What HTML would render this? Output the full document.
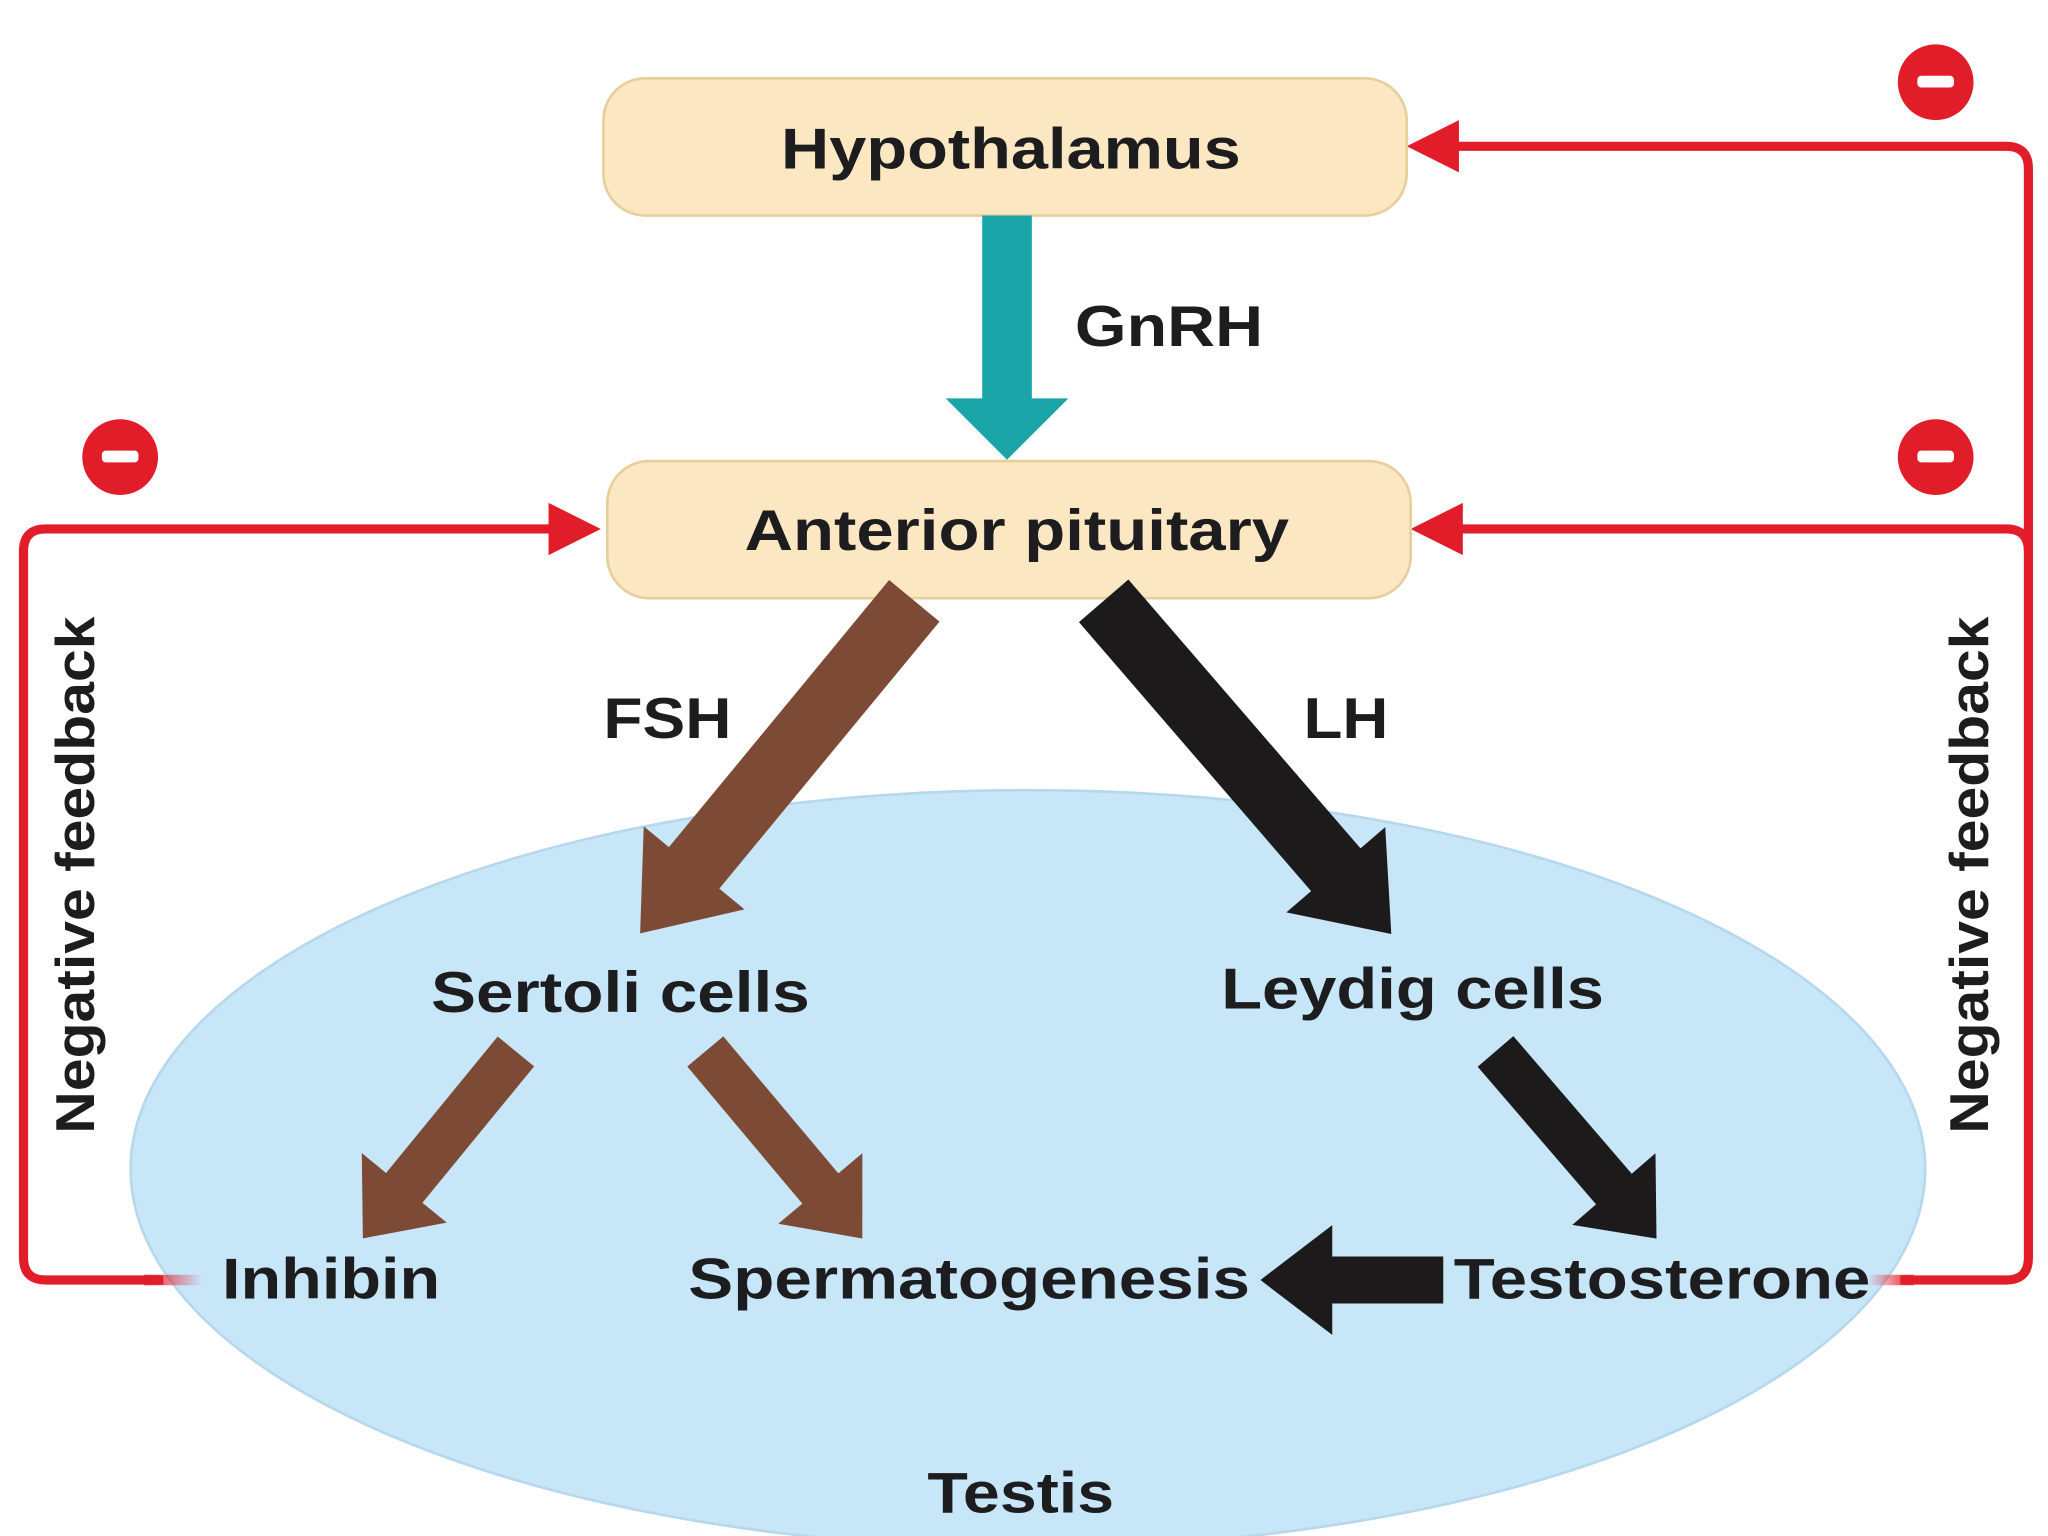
<!DOCTYPE html>
<html><head><meta charset="utf-8"><style>
html,body{margin:0;padding:0;background:#fff;}
svg{display:block}
text{font-family:"Liberation Sans",Arial,sans-serif;font-weight:bold;fill:#1d1d1f;}
</style></head><body>
<svg width="2048" height="1536" viewBox="0 0 1568 1176" preserveAspectRatio="none" xmlns="http://www.w3.org/2000/svg">
<defs>
<linearGradient id="fl" x1="0" x2="1"><stop offset="0" stop-color="#e21d2a"/><stop offset="1" stop-color="#e21d2a" stop-opacity="0"/></linearGradient>
<linearGradient id="fr" x1="1" x2="0"><stop offset="0" stop-color="#e21d2a"/><stop offset="1" stop-color="#e21d2a" stop-opacity="0"/></linearGradient>
</defs>
<rect width="1568" height="1176" fill="#fff"/>
<ellipse cx="787" cy="895" rx="687" ry="290" fill="#c7e6f7" stroke="#b5d8ec" stroke-width="2"/>

<path d="M125,980 H35 Q18,980 18,963 V422 Q18,405 35,405 H430" fill="none" stroke="#e21d2a" stroke-width="7"/>
<rect x="110" y="976" width="45" height="8" fill="url(#fl)"/>
<polygon points="460,405 420,385 420,425" fill="#e21d2a"/>
<path d="M1455,980 H1536 Q1553,980 1553,963 V129 Q1553,112 1536,112 H1110" fill="none" stroke="#e21d2a" stroke-width="7"/>
<rect x="1430" y="976" width="35" height="8" fill="url(#fr)"/>
<path d="M1553,422 Q1553,405 1536,405 H1110" fill="none" stroke="#e21d2a" stroke-width="7"/>
<polygon points="1077,112 1117,92 1117,132" fill="#e21d2a"/>
<polygon points="1080,405 1120,385 1120,425" fill="#e21d2a"/>

<g fill="#e21d2a"><circle cx="92" cy="350" r="29"/><circle cx="1482" cy="350" r="29"/><circle cx="1482" cy="63" r="29"/></g>
<g fill="#fff"><rect x="78" y="345" width="28" height="9" rx="3"/><rect x="1468" y="345" width="28" height="9" rx="3"/><rect x="1468" y="58" width="28" height="9" rx="3"/></g>

<rect x="462" y="60" width="615" height="105" rx="32" fill="#fbe8c2" stroke="#e7cf9b" stroke-width="2"/>
<rect x="465" y="353" width="615" height="105" rx="32" fill="#fbe8c2" stroke="#e7cf9b" stroke-width="2"/>
<text x="598" y="129" font-size="44" textLength="352" lengthAdjust="spacingAndGlyphs">Hypothalamus</text>
<text x="570" y="421" font-size="44" textLength="417" lengthAdjust="spacingAndGlyphs">Anterior pituitary</text>

<rect x="752" y="165" width="38" height="142" fill="#1aa5a8"/>
<polygon points="724,305 818,305 771,352" fill="#1aa5a8"/>
<text x="823" y="265" font-size="44" textLength="144" lengthAdjust="spacingAndGlyphs">GnRH</text>

<g transform="translate(700,460) rotate(129.5)"><polygon points="0,-25 265,-25 265,-50 330,0 265,50 265,25 0,25" fill="#7c4a35"/></g>
<g transform="translate(845,460) rotate(49.2)"><polygon points="0,-25 272,-25 272,-50 337,0 272,50 272,25 0,25" fill="#1c1a1a"/></g>
<g transform="translate(395,805) rotate(129.3)"><polygon points="0,-18 135,-18 135,-42 185,0 135,42 135,18 0,18" fill="#7c4a35"/></g>
<g transform="translate(540,805) rotate(50)"><polygon points="0,-18 137,-18 137,-42 187,0 137,42 137,18 0,18" fill="#7c4a35"/></g>
<g transform="translate(1145,805) rotate(49.3)"><polygon points="0,-18 139,-18 139,-42 189,0 139,42 139,18 0,18" fill="#1c1a1a"/></g>
<polygon points="1105,962 1020,962 1020,938 965,980 1020,1022 1020,998 1105,998" fill="#1c1a1a"/>

<text x="462" y="565" font-size="44" textLength="98" lengthAdjust="spacingAndGlyphs">FSH</text>
<text x="998" y="565" font-size="44" textLength="65" lengthAdjust="spacingAndGlyphs">LH</text>
<text x="330" y="775" font-size="44" textLength="290" lengthAdjust="spacingAndGlyphs">Sertoli cells</text>
<text x="935" y="772" font-size="44" textLength="293" lengthAdjust="spacingAndGlyphs">Leydig cells</text>
<text x="170" y="994" font-size="44" textLength="167" lengthAdjust="spacingAndGlyphs">Inhibin</text>
<text x="527" y="994" font-size="44" textLength="430" lengthAdjust="spacingAndGlyphs">Spermatogenesis</text>
<text x="1113" y="994" font-size="44" textLength="319" lengthAdjust="spacingAndGlyphs">Testosterone</text>
<text x="710" y="1158" font-size="44" textLength="143" lengthAdjust="spacingAndGlyphs">Testis</text>
<text transform="translate(72,868) rotate(-90)" font-size="42" textLength="396" lengthAdjust="spacingAndGlyphs">Negative feedback</text>
<text transform="translate(1522,868) rotate(-90)" font-size="42" textLength="396" lengthAdjust="spacingAndGlyphs">Negative feedback</text>
</svg>
</body></html>
